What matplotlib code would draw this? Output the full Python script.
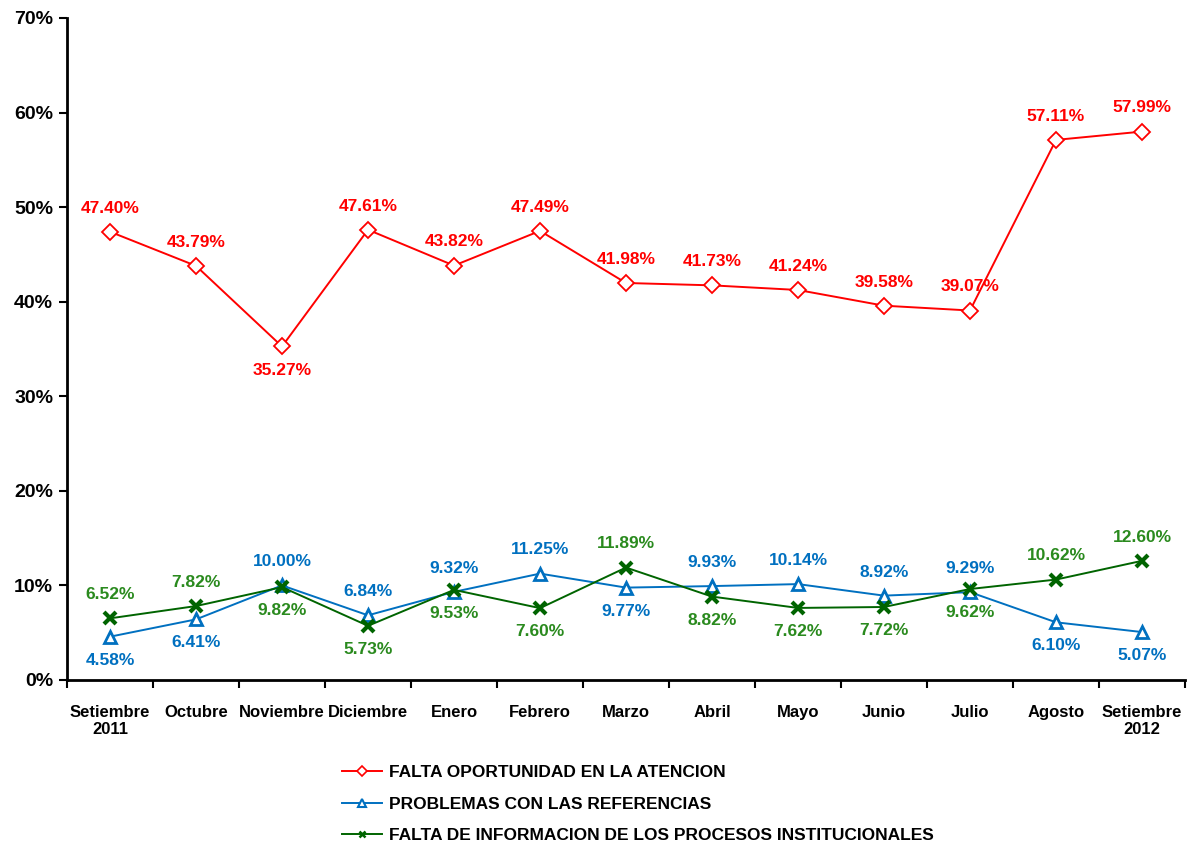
import matplotlib
matplotlib.use("Agg")
import matplotlib.pyplot as plt
import numpy as np

plt.rcParams['font.family'] = ['Liberation Sans', 'DejaVu Sans']
plt.rcParams['font.weight'] = 'bold'

months = ["Setiembre\n2011", "Octubre", "Noviembre", "Diciembre", "Enero", "Febrero",
          "Marzo", "Abril", "Mayo", "Junio", "Julio", "Agosto", "Setiembre\n2012"]
oportunidad = [47.40, 43.79, 35.27, 47.61, 43.82, 47.49, 41.98, 41.73, 41.24, 39.58, 39.07, 57.11, 57.99]
referencias = [4.58, 6.41, 10.00, 6.84, 9.32, 11.25, 9.77, 9.93, 10.14, 8.92, 9.29, 6.10, 5.07]
informacion = [6.52, 7.82, 9.82, 5.73, 9.53, 7.60, 11.89, 8.82, 7.62, 7.72, 9.62, 10.62, 12.60]

# label above (1) or below (-1) each point
pos_red = [1, 1, -1, 1, 1, 1, 1, 1, 1, 1, 1, 1, 1]
pos_blue = [-1, -1, 1, 1, 1, 1, -1, 1, 1, 1, 1, -1, -1]
pos_green = [1, 1, -1, -1, -1, -1, 1, -1, -1, -1, -1, 1, 1]

names = ["FALTA OPORTUNIDAD EN LA ATENCION",
         "PROBLEMAS CON LAS REFERENCIAS",
         "FALTA DE INFORMACION DE LOS PROCESOS INSTITUCIONALES"]

fig = plt.figure(figsize=(11.87, 8.51), dpi=100)
ax = fig.add_axes([67/1187, 1-680/851, (1185-67)/1187, (680-18)/851])

x = np.arange(len(months))
red, blue, green_line, green_txt = "#FF0000", "#0070C0", "#006400", "#2A8A1E"

l1, = ax.plot(x, oportunidad, color=red, lw=1.4, marker="D", ms=8, mfc="white",
              mec=red, mew=1.3)
l2, = ax.plot(x, referencias, color=blue, lw=1.4, marker="^", ms=9, mfc="white",
              mec=blue, mew=2)
l3, = ax.plot(x, informacion, color=green_line, lw=1.4, marker="x", ms=8,
              mec=green_line, mew=3)

for vals, pos, col in [(oportunidad, pos_red, red), (referencias, pos_blue, blue),
                       (informacion, pos_green, green_txt)]:
    for i, (v, p) in enumerate(zip(vals, pos)):
        ax.annotate(f"{v:.2f}%", (i, v), xytext=(0, 17*p), textcoords="offset points",
                    ha="center", va="center", color=col, fontsize=12.5, fontweight="bold")

ax.set_xlim(-0.5, len(months)-0.5)
ax.set_ylim(0, 70)
ax.set_yticks(np.arange(0, 71, 10))
ax.set_yticklabels([f"{t}%" for t in range(0, 71, 10)], fontsize=14, fontweight="bold")
ax.set_xticks(x)
ax.set_xticklabels(months, fontsize=12, fontweight="bold")
ax.tick_params(axis="x", which="major", length=0, pad=18)
ax.set_xticks(np.arange(-0.5, len(months)), minor=True)
ax.tick_params(axis="x", which="minor", length=6, width=1.5, direction="out")
ax.tick_params(axis="y", length=6, width=1.5, direction="out", pad=4)
for s in ["top", "right"]:
    ax.spines[s].set_visible(False)
for s in ["left", "bottom"]:
    ax.spines[s].set_linewidth(2)

# legend handles with smaller markers
h1 = plt.Line2D([], [], color=red, lw=1.4, marker="D", ms=5, mfc="white", mec=red, mew=1.2)
h2 = plt.Line2D([], [], color=blue, lw=1.4, marker="^", ms=6, mfc="white", mec=blue, mew=1.5)
h3 = plt.Line2D([], [], color=green_line, lw=1.4, marker="x", ms=5, mec=green_line, mew=1.8)
fig.legend([h1, h2, h3], names, loc="upper left", bbox_to_anchor=(335/1187, 1-758/851),
           frameon=False, prop={"size": 12.5, "weight": "bold"}, handlelength=2.3,
           labelspacing=0.95, handletextpad=0.4, borderaxespad=0)

fig.savefig("out.png", dpi=100)
